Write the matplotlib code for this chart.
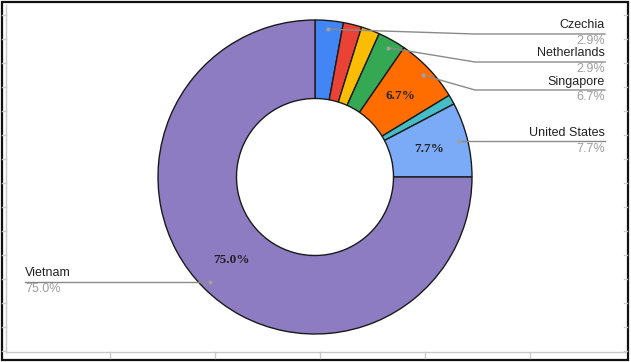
import numpy as np
import matplotlib.pyplot as plt
from matplotlib.patches import Rectangle

# slice values (percent), clockwise from 12 o'clock
countries = ['Czechia', 'Other A', 'Other B', 'Netherlands', 'Singapore', 'Other C', 'United States', 'Vietnam']
shares = [2.9, 1.9, 1.9, 2.9, 6.7, 1.0, 7.7, 75.0]
colors = ['#4285F4', '#EA4335', '#FBBC04', '#34A853', '#FF6D01', '#46BDC6', '#7BAAF7', '#8E7CC3']
labeled = ['Czechia', 'Netherlands', 'Singapore', 'United States', 'Vietnam']

W, H = 631, 362
cx, cy, R = 315, H - 177, 157

fig = plt.figure(figsize=(W / 100, H / 100), dpi=100)
ax = fig.add_axes([0, 0, 1, 1])
ax.set_xlim(0, W)
ax.set_ylim(0, H)
ax.set_aspect('equal')
ax.axis('off')

# frame of the screenshot
ax.add_patch(Rectangle((1.5, 2), 626, H - 4, fill=False, ec='#111', lw=1.6))
ax.plot([5.5, 5.5], [H - 5, H - 352], color='#c8c8c8', lw=1)
ax.plot([5.5, 625], [H - 352, H - 352], color='#c8c8c8', lw=1)
for ty in np.arange(15, 352, 24):
    ax.plot([2, 5.5], [H - ty, H - ty], color='#c8c8c8', lw=1)
    ax.plot([624, 627], [H - ty, H - ty], color='#c8c8c8', lw=1)
for tx in np.arange(110, 620, 105):
    ax.plot([tx, tx], [H - 352, H - 358], color='#c8c8c8', lw=1)


def pct_label(p):
    return f'{p:.1f}%' if p >= 5 else ''


wedges, _, autotexts = ax.pie(
    shares, colors=colors, startangle=90, counterclock=False,
    center=(cx, cy), radius=R, autopct=pct_label, pctdistance=0.75,
    wedgeprops=dict(width=R * 0.5, edgecolor='#1a1a1a', linewidth=1),
    textprops=dict(family='Liberation Serif', fontweight='bold', fontsize=9.5, color='#222'))
ax.set_xlim(0, W)
ax.set_ylim(0, H)

# leader lines and outside labels
label_rows = {'Czechia': 34, 'Netherlands': 62, 'Singapore': 90, 'United States': 141, 'Vietnam': 282}
cum = np.cumsum([0] + shares)
for i, name in enumerate(countries):
    if name not in labeled:
        continue
    mid = (cum[i] + cum[i + 1]) / 2 / 100 * 2 * np.pi
    dx, dy = cx + 0.945 * R * np.sin(mid), cy + 0.945 * R * np.cos(mid)
    ly = H - label_rows[name]
    if dx > cx:
        elbow = 475 if dx < 470 and abs(dy - ly) > 3 else dx
        ax.plot([dx, elbow, 605], [dy, ly, ly], color='#8a8a8a', lw=1, zorder=3)
        tx, ha = 605, 'right'
    else:
        ax.plot([dx, 25], [ly, ly], color='#8a8a8a', lw=1, zorder=3)
        tx, ha = 25, 'left'
    ax.scatter([dx], [dy], s=9, color='#a0a0a0', zorder=4, linewidths=0)
    ax.text(tx, ly + 8.5, name, ha=ha, va='center', fontsize=9,
            family='Liberation Sans', color='#222')
    ax.text(tx, ly - 7.5, f'{shares[i]:.1f}%', ha=ha, va='center', fontsize=9,
            family='Liberation Sans', color='#9e9e9e')

fig.savefig('out.png', dpi=100)
